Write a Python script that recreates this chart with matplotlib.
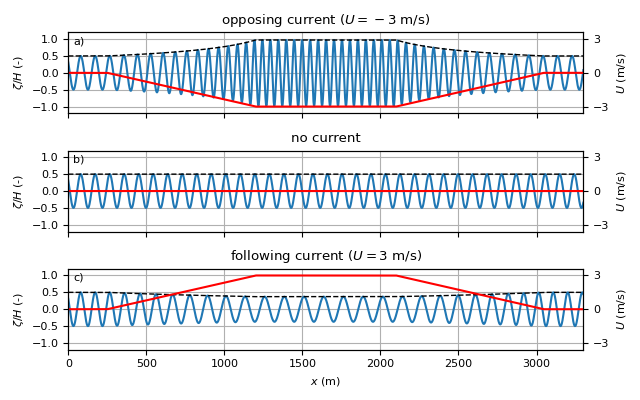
import numpy as np
import matplotlib
matplotlib.use("Agg")
import matplotlib.pyplot as plt

plt.rcParams['font.size'] = 8

# current profile (breakpoints)
x_break = [0, 250, 1200, 2100, 3045, 3300]
u_shape = [0, 0, 1, 1, 0, 0]
U_max = [-3.0, 0.0, 3.0]
titles = [r"opposing current ($U={}-3$ m/s)", "no current",
          r"following current ($U=3$ m/s)"]
panel_labels = ["a)", "b)", "c)"]

# wave parameters
a0 = 0.5          # relative amplitude without current
L0 = 93.0         # wavelength without current (m)
T = 10.0          # wave period used for the Doppler shift (s)
x_crest = 79.5    # position of first crest without current (m)
g = 9.81
x_max = 3300

xx = np.linspace(0, x_max, 4000)
omega = 2 * np.pi / T
k0 = 2 * np.pi / L0

fig, axes = plt.subplots(3, 1, figsize=(6.4, 4.0), dpi=100, sharex=True)
for ax, U0, title, lab in zip(axes, U_max, titles, panel_labels):
    U = np.interp(xx, x_break, u_shape) * U0
    q = omega * U / g
    with np.errstate(divide='ignore', invalid='ignore'):
        s = np.where(np.abs(q) < 1e-12, 1.0,
                     (-1 + np.sqrt(1 + 4 * q)) / (2 * q))
    k = k0 * s ** 2
    A = a0 * np.sqrt(s ** 3 / (2 - s))
    phase = np.concatenate([[0], np.cumsum(0.5 * (k[1:] + k[:-1]) * np.diff(xx))])
    eta = A * np.cos(phase - k0 * x_crest)

    ax.plot(xx, eta, color='C0', lw=1.5)
    ax.plot(xx, A, 'k--', lw=1)
    ax.set_ylim(-1.2, 1.2)
    ax.set_yticks([-1.0, -0.5, 0.0, 0.5, 1.0])
    ax.set_xlim(0, x_max)
    ax.grid(True)
    ax.set_ylabel(r"$\zeta/H$ (-)")
    ax.set_title(title)
    ax.text(0.01, 0.95, lab, transform=ax.transAxes, va='top', ha='left')

    ax2 = ax.twinx()
    ax2.plot(xx, U, 'r-', lw=1.5)
    ax2.set_ylim(-3.6, 3.6)
    ax2.set_yticks([-3, 0, 3])
    ax2.set_ylabel(r"$U$ (m/s)")

axes[-1].set_xlabel(r"$x$ (m)")
fig.tight_layout()
fig.savefig("out.png", dpi=100)
